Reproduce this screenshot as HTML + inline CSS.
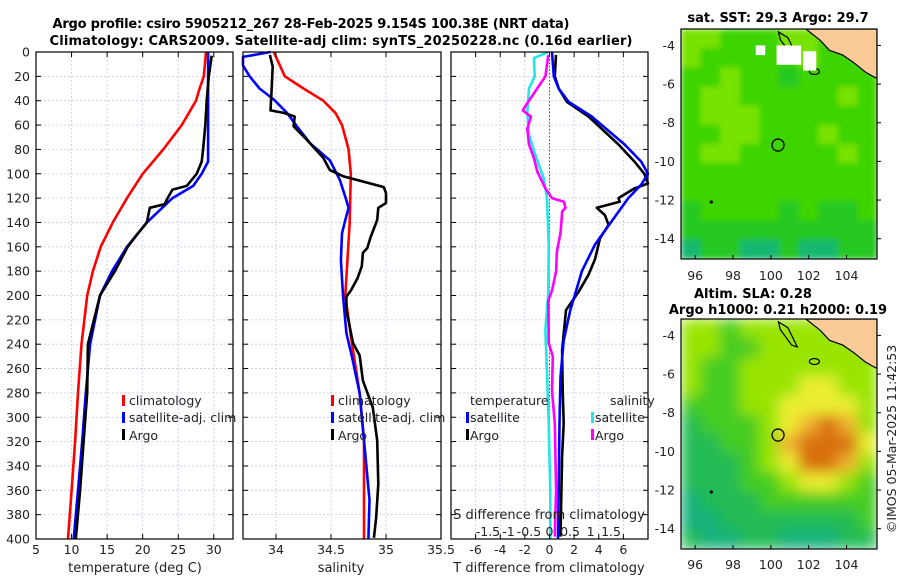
<!DOCTYPE html>
<html><head><meta charset="utf-8"><style>
html,body{margin:0;padding:0;background:#fff;}
svg{display:block;font-family:"DejaVu Sans","Liberation Sans",sans-serif;}
</style></head><body>
<svg id="fig" width="900" height="580" viewBox="0 0 900 580" xmlns="http://www.w3.org/2000/svg">
<defs>
<filter id="blurSST" x="0" y="0" width="1" height="1"><feGaussianBlur stdDeviation="3" edgeMode="duplicate"/></filter>
<filter id="blurSLA" x="0" y="0" width="1" height="1"><feGaussianBlur stdDeviation="7" edgeMode="duplicate"/></filter>
<clipPath id="clipTop"><rect x="681" y="29" width="196" height="230"/></clipPath>
<clipPath id="clipBot"><rect x="681" y="319" width="196" height="230"/></clipPath>
</defs>
<text x="311" y="28" text-anchor="middle" font-size="13" font-weight="bold" textLength="517">Argo profile: csiro 5905212_267 28-Feb-2025 9.154S 100.38E (NRT data)</text>
<text x="341" y="45" text-anchor="middle" font-size="13" font-weight="bold" textLength="583">Climatology: CARS2009. Satellite-adj clim: synTS_20250228.nc (0.16d earlier)</text>
<text x="778" y="22" text-anchor="middle" font-size="13" font-weight="bold">sat. SST: 29.3 Argo: 29.7</text>
<text x="694" y="298" font-size="13" font-weight="bold">Altim. SLA: 0.28</text>
<text x="778" y="314" text-anchor="middle" font-size="13" font-weight="bold">Argo h1000: 0.21 h2000: 0.19</text>
<text transform="translate(896,439) rotate(-90)" text-anchor="middle" font-size="12.5" fill="#222">©IMOS 05-Mar-2025 11:42:53</text>
</svg>
<script>
// ---------- Data ----------
const depthTicks = [0,20,40,60,80,100,120,140,160,180,200,220,240,260,280,300,320,340,360,380,400];
const tempTicks = [5,10,15,20,25,30];
const salTicks = [34,34.5,35,35.5];
const tdiffTicks = [-6,-4,-2,0,2,4,6];
const sdiffTicks = [-1.5,-1,-0.5,0,0.5,1,1.5];

const tempClimDepth = [0,20,30,40,60,80,100,120,140,160,180,200,240,280,320,360,400];
const tempClim = [28.9,28.6,28.0,27.5,25.5,22.9,20.0,17.8,15.8,14.1,13.0,12.2,11.4,10.9,10.5,10.0,9.5];
const tempSatDepth = [0,90,100,110,120,140,160,180,200,240,280,320,360,400];
const tempSat = [29.2,29.2,28.3,27.1,24.2,20.6,17.8,15.7,14.0,12.6,12.0,11.5,10.9,10.3];
const tempArgoDepth = [3,20,40,60,80,90,100,110,113,120,125,128,140,150,160,180,200,240,280,320,360,400];
const tempArgo = [29.7,29.3,29.0,28.8,28.5,28.3,27.6,26.2,24.2,23.5,23.1,21.0,20.6,19.2,17.9,16.1,14.0,12.3,12.2,11.7,11.2,10.6];

const salClimDepth = [0,20,30,40,50,60,80,100,140,200,239,280,319,400];
const salClim = [33.98,34.08,34.25,34.43,34.54,34.60,34.66,34.68,34.67,34.63,34.69,34.76,34.80,34.80];
const salSatDepth = [0,4,11,20,30,39,50,61,75,89,105,119,128,138,149,171,201,231,250,280,319,368,400];
const salSat = [33.95,33.70,33.70,33.76,33.85,33.98,34.10,34.19,34.31,34.49,34.58,34.63,34.66,34.63,34.60,34.59,34.61,34.64,34.69,34.76,34.80,34.85,34.84];
const salArgoDepth = [2.5,12,31,48,50,53,61,72,78,87,97,102,111,116,124,128,138,152,161,165,176,186,196,201,212,239,249,270,292,319,355,383,399];
const salArgo = [33.945,33.97,33.96,33.95,34.07,34.17,34.16,34.28,34.34,34.43,34.49,34.61,34.98,35.00,35.00,34.93,34.92,34.86,34.83,34.79,34.78,34.74,34.68,34.64,34.64,34.70,34.76,34.79,34.88,34.92,34.93,34.91,34.89];

const tdSatDepth = [0,20,30,41,53,76,90,100,109,120,139,158,180,198,212,237,267,305,360,400];
const tdSat = [0.2,0.35,0.75,1.56,3.43,6.1,7.45,8.0,7.45,6.4,5.05,3.7,2.63,2.1,1.69,1.15,0.89,0.81,0.75,0.69];
const tdArgoDepth = [2.5,20,30,41,53,76,90,100,108,112,120,123,128,134,142,153,170,183,197,212,245,278,305,332,360,398];
const tdArgo = [0.53,0.43,0.75,1.42,3.17,5.6,6.9,7.7,8.0,6.9,5.6,5.7,3.84,4.5,4.8,4.1,3.7,3.17,2.36,1.34,1.02,1.07,1.15,1.02,0.97,0.89];
const sdSatDepth = [0,5,20,30,49,68,85,104,120,158,198,228,264,305,360,400];
const sdSat = [-0.03,-0.38,-0.36,-0.50,-0.54,-0.50,-0.34,-0.14,-0.06,-0.02,-0.03,-0.1,-0.06,-0.02,0.02,0.02];
const sdArgoDepth = [2.5,20,30,44,48,52,53,63,76,87,98,112,120,123,128,131,148,164,180,196,204,239,250,278,305,360,398];
const sdArgo = [-0.03,-0.1,-0.30,-0.58,-0.65,-0.50,-0.45,-0.54,-0.50,-0.38,-0.30,-0.10,0.06,0.35,0.39,0.31,0.27,0.18,0.16,0.06,-0.03,-0.02,0.08,0.06,0.13,0.16,0.13];

const lonTicks = [96,98,100,102,104];
const latTicks = [-4,-6,-8,-10,-12,-14];
const argoLon = [100.38];
const argoLat = [-9.154];
const sstColors = ["#14b870","#28c820","#3ed400","#78e200","#a6ee00"];
const sstGrid = [
[3,3,2,2,2,3,3,2,2,2],
[3,2,2,2,2,2,3,2,2,2],
[2,2,3,2,2,1,2,2,2,2],
[2,3,3,2,2,2,2,2,3,2],
[2,3,3,3,2,2,2,2,2,2],
[2,2,3,3,2,2,2,3,2,2],
[2,3,3,2,2,2,2,2,3,2],
[2,2,2,2,2,2,2,2,2,2],
[2,2,2,2,2,2,2,2,2,2],
[1,2,2,2,2,1,2,1,1,2],
[1,1,1,1,1,1,1,1,1,1],
[0,1,1,0,0,1,0,0,1,1]];
const slaColors = ["#18b07a","#22bb55","#44cc22","#99e400","#ecee30","#f0b032","#d87010"];
const slaGrid = [
[3,3,2,3,3,3,3,3,3,3],
[3,3,2,2,3,3,3,3,3,3],
[3,2,2,3,3,3,3,3,3,3],
[3,2,2,3,3,3,4,4,3,3],
[2,2,2,3,3,4,4,4,4,3],
[1,2,2,2,3,4,5,6,5,3],
[1,1,2,2,3,5,6,6,6,4],
[1,1,1,2,3,4,6,6,5,3],
[1,1,1,2,2,3,4,4,3,2],
[0,1,1,1,2,2,2,2,2,2],
[0,0,1,1,1,1,1,1,1,2],
[1,0,0,1,1,0,0,0,1,1]];
const coastLon = [101.85,102.6,103.1,103.8,104.35,105.0,105.4,105.61];
const coastLat = [-3.15,-3.73,-4.25,-4.5,-4.87,-5.38,-5.6,-5.7];

// ---------- helpers ----------
const NS = "http://www.w3.org/2000/svg";
const svg = document.getElementById("fig");
function mk(tag, attrs, parent){ const e=document.createElementNS(NS,tag); for(const k in attrs) e.setAttribute(k,attrs[k]); (parent||svg).appendChild(e); return e; }
function lin(d0,d1,r0,r1){ return v => r0 + (v-d0)*(r1-r0)/(d1-d0); }

const Y0=52, Y1=539;
const yDepth = lin(0,400,Y0,Y1);

function frame(name, x0, x1, xs, xTicks, showYLabels){
  const g = mk("g",{});
  
  
  depthTicks.forEach(d=>{ if(d>0&&d<400){ const l=mk("line",{x1:x0,x2:x1,y1:yDepth(d),y2:yDepth(d),stroke:"#c3cbe8","stroke-width":0.8,"stroke-dasharray":"2,2"},g);
    
     } });
  xTicks.forEach(t=>{ const x=xs(t); if(x>x0+1&&x<x1-1){ const l=mk("line",{x1:x,x2:x,y1:Y0,y2:Y1,stroke:"#c3cbe8","stroke-width":0.8,"stroke-dasharray":"2,2"},g);
    
     } });
  depthTicks.forEach(d=>{ const y=yDepth(d);
    mk("line",{x1:x0,x2:x0+5,y1:y,y2:y,stroke:"#000","stroke-width":1},g);
    mk("line",{x1:x1-5,x2:x1,y1:y,y2:y,stroke:"#000","stroke-width":1},g);
    if(showYLabels){ const t=mk("text",{x:x0-6,y:y+4.5,"text-anchor":"end","font-size":12.5,fill:"#222"},g); t.textContent=d;
      
       }
  });
  return g;
}
function border(name,x0,x1){ const r=mk("rect",{x:x0,y:Y0,width:x1-x0,height:Y1-Y0,fill:"none",stroke:"#000","stroke-width":1.2});
  
   }
function series(name, xs, vals, depths, color, w){
  const pts = vals.map((v,i)=>xs(v).toFixed(1)+","+yDepth(depths[i]).toFixed(1)).join(" ");
  const p = mk("polyline",{points:pts,fill:"none",stroke:color,"stroke-width":w||2.6,"stroke-linejoin":"round"});
  
  
}
function xLabels(xs, ticks, y, cls){ ticks.forEach(t=>{ const x=xs(t);
  const tx=mk("text",{x:x,y:y,"text-anchor":"middle","font-size":12.5,fill:"#222"}); tx.textContent=t;
  
  
  mk("line",{x1:x,x2:x,y1:Y1,y2:Y1-5,stroke:"#000"}); mk("line",{x1:x,x2:x,y1:Y0,y2:Y0+5,stroke:"#000"}); }); }
function label(txt,x,y,name,size,color,anchor){ const t=mk("text",{x:x,y:y,"font-size":size||13,fill:color||"#222","text-anchor":anchor||"start"}); t.textContent=txt;
  
   return t; }
function legendMark(x,y,color,name){ const r=mk("rect",{x:x,y:y-10,width:3,height:11,fill:color});
  
   }

// ---------- Panel 1: temperature ----------
const xT = lin(5,32.7,36,233);
frame("temperature-panel",36,233,xT,tempTicks,true);
series("temp-climatology-line",xT,tempClim,tempClimDepth,"#ff0000");
series("temp-satellite-line",xT,tempSat,tempSatDepth,"#0000ff");
series("temp-argo-line",xT,tempArgo,tempArgoDepth,"#000000");
border("temperature-axes",36,233);
xLabels(xT,tempTicks,554,"temp-x-tick-label");
label("temperature (deg C)",135,572,"temp-x-axis-title",13,"#222","middle");
legendMark(122,405,"#ff0000","legend-climatology-mark"); label("climatology",129,405,"legend-climatology",12.5);
legendMark(122,422,"#0000ff","legend-satellite-mark"); label("satellite-adj. clim",129,422,"legend-satellite",12.5);
legendMark(122,439,"#000","legend-argo-mark"); label("Argo",129,440,"legend-argo",12.5);

// ---------- Panel 2: salinity ----------
const xS = lin(33.7,35.5,243,441);
frame("salinity-panel",243,441,xS,salTicks,false);
series("sal-climatology-line",xS,salClim,salClimDepth,"#ff0000");
series("sal-satellite-line",xS,salSat,salSatDepth,"#0000ff");
series("sal-argo-line",xS,salArgo,salArgoDepth,"#000000");
border("salinity-axes",243,441);
xLabels(xS,salTicks,554,"sal-x-tick-label");
label("salinity",341,572,"sal-x-axis-title",13,"#222","middle");
legendMark(331,405,"#ff0000","legend-sal-climatology-mark"); label("climatology",338,405,"legend-sal-climatology",12.5);
legendMark(331,422,"#0000ff","legend-sal-satellite-mark"); label("satellite-adj. clim",338,422,"legend-sal-satellite",12.5);
legendMark(331,439,"#000","legend-sal-argo-mark"); label("Argo",338,440,"legend-sal-argo",12.5);

// ---------- Panel 3: differences ----------
const xD = lin(-8,8,451,648);
const xSD = lin(-2.4,2.4,451,648);
frame("difference-panel",451,648,xD,tdiffTicks,false);
const zl = mk("line",{x1:xD(0),x2:xD(0),y1:Y0,y2:Y1,stroke:"#555","stroke-width":1,"stroke-dasharray":"1.5,2"});


series("sdiff-satellite-line",xSD,sdSat,sdSatDepth,"#22e6e6");
series("sdiff-argo-line",xSD,sdArgo,sdArgoDepth,"#ff00ff");
series("tdiff-argo-line",xD,tdArgo,tdArgoDepth,"#000000");
series("tdiff-satellite-line",xD,tdSat,tdSatDepth,"#0000ff");
border("difference-axes",451,648);
xLabels(xD,tdiffTicks,554,"tdiff-x-tick-label");
label("T difference from climatology",549,572,"tdiff-x-axis-title",13,"#222","middle");
label("S difference from climatology",549,519,"sdiff-axis-title",13,"#222","middle");
sdiffTicks.forEach(t=>{ const tx=mk("text",{x:xSD(t),y:536,"text-anchor":"middle","font-size":12.5,fill:"#222"}); tx.textContent=t;
  
   });
label("temperature",470,405,"legend-temperature-heading",12.5);
legendMark(466,422,"#0000ff","legend-t-satellite-mark"); label("satellite",470,422,"legend-t-satellite",12.5);
legendMark(466,439,"#000","legend-t-argo-mark"); label("Argo",470,440,"legend-t-argo",12.5);
label("salinity",610,405,"legend-salinity-heading",12.5);
legendMark(591,422,"#22e6e6","legend-s-satellite-mark"); label("satellite",595,422,"legend-s-satellite",12.5);
legendMark(591,439,"#ff00ff","legend-s-argo-mark"); label("Argo",595,440,"legend-s-argo",12.5);

// ---------- Maps ----------
function drawMap(name, top, bottom, grid, colors, labelY, clipId, filterId){
  const x0=681, x1=877, lon0=95.25, lon1=105.61, lat0=-3.15, lat1=-15.05;
  const xs=lin(lon0,lon1,x0,x1), ys=lin(lat0,lat1,top,bottom);
  const g=mk("g",{"clip-path":"url(#"+clipId+")"});
  
  
  const cg=mk("g",{filter:"url(#"+filterId+")"},g);
  
  
  const rows=grid.length, cols=grid[0].length;
  for(let r=0;r<rows;r++) for(let c=0;c<cols;c++){
    const la=lat0+(lat1-lat0)*r/rows, la2=lat0+(lat1-lat0)*(r+1)/rows;
    const lo=lon0+(lon1-lon0)*c/cols, lo2=lon0+(lon1-lon0)*(c+1)/cols;
    const cell=mk("rect",{x:xs(lo),y:ys(la),width:xs(lo2)-xs(lo)+0.5,height:ys(la2)-ys(la)+0.5,fill:colors[grid[r][c]]},cg);
    
    
  }
  let pts = coastLon.map((lo,i)=>xs(lo).toFixed(1)+","+ys(coastLat[i]).toFixed(1));
  pts.push(x1+","+top);
  const land=mk("polygon",{points:pts.join(" "),fill:"#fbcb97",stroke:"#000","stroke-width":1.2},g);
  
  
  const isl=mk("polygon",{points:[xs(100.4),ys(-3.3),xs(100.9),ys(-3.6),xs(101.4),ys(-4.6),xs(101.1),ys(-4.5),xs(100.5),ys(-3.7)].join(" "),fill:"none",stroke:"#000","stroke-width":1.2},g);
  
  
  const isl2=mk("ellipse",{cx:xs(102.3),cy:ys(-5.35),rx:5,ry:3,fill:"none",stroke:"#000","stroke-width":1.2},g);
  
  
  argoLon.forEach((lo,i)=>{ const c=mk("circle",{cx:xs(lo),cy:ys(argoLat[i]),r:6,fill:"none",stroke:"#000","stroke-width":1.3},g);
    
     });
  mk("circle",{cx:xs(96.85),cy:ys(-12.1),r:1.6,fill:"#000"},g);
  const b=mk("rect",{x:x0,y:top,width:x1-x0,height:bottom-top,fill:"none",stroke:"#000","stroke-width":1.2});
  
  
  lonTicks.forEach(lo=>{ const t=mk("text",{x:xs(lo),y:labelY,"text-anchor":"middle","font-size":12.5,fill:"#222"}); t.textContent=lo;
    
    
    mk("line",{x1:xs(lo),x2:xs(lo),y1:bottom,y2:bottom-4,stroke:"#000"}); });
  latTicks.forEach(la=>{ const t=mk("text",{x:675,y:ys(la)+4.5,"text-anchor":"end","font-size":12.5,fill:"#222"}); t.textContent=la;
    
    
    mk("line",{x1:x1,x2:x1+4,y1:ys(la),y2:ys(la),stroke:"#000"}); });
  return {g,xs,ys};
}
const m1 = drawMap("sst-map",29,259,sstGrid,sstColors,280,"clipTop","blurSST");
[[100.3,-4.0,101.6,-5.0],[101.7,-4.3,102.4,-5.3],[99.2,-4.0,99.7,-4.5]].forEach(a=>{
  const w=mk("rect",{x:m1.xs(a[0]),y:m1.ys(a[1]),width:m1.xs(a[2])-m1.xs(a[0]),height:m1.ys(a[3])-m1.ys(a[1]),fill:"#fff"},m1.g);
  
  
});
drawMap("sla-map",319,549,slaGrid,slaColors,569,"clipBot","blurSLA");
</script>
</body></html>
